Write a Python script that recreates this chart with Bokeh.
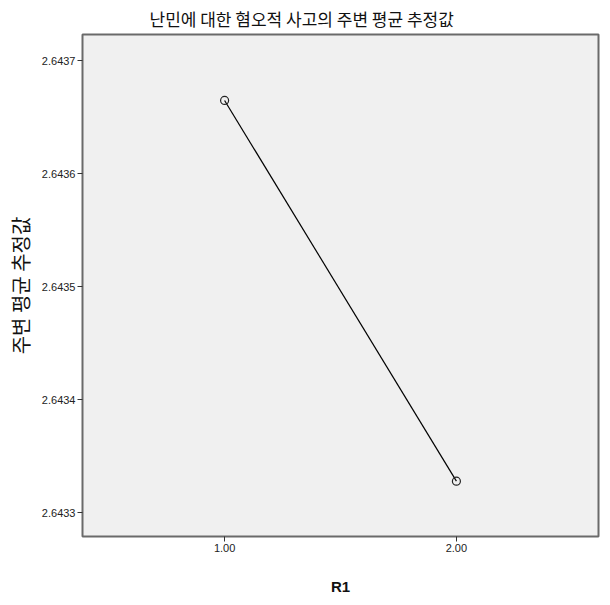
from bokeh.plotting import figure
from bokeh.models import FixedTicker, PrintfTickFormatter, Range1d
from bokeh.embed import file_html
from bokeh.resources import INLINE

# data
r1_levels = [1.0, 2.0]
marginal_means = [2.643665, 2.643328]
y_ticks = [2.6433, 2.6434, 2.6435, 2.6436, 2.6437]
x_ticks = [1.0, 2.0]

title_text = "난민에 대한 혐오적 사고의 주변 평균 추정값"
x_label = "R1"
y_label = "주변 평균 추정값"

p = figure(width=600, height=597, output_backend="svg", toolbar_location=None,
           x_range=Range1d(0.387, 2.613), y_range=Range1d(2.643279, 2.6437234),
           min_border_left=82, min_border_right=2, min_border_top=34, min_border_bottom=55)

p.title.text = title_text
p.title.text_font = "Noto Sans CJK KR"
p.title.text_font_size = "17px"
p.title.text_font_style = "normal"
p.title.align = "left"
p.title.offset = 67
p.title.standoff = 7
p.title.text_color = "#111111"

p.background_fill_color = "#f0f0f0"
p.border_fill_color = "white"
p.outline_line_color = "#6a6a6a"
p.outline_line_width = 2
p.grid.visible = False

for ax in (p.xaxis, p.yaxis):
    ax.axis_line_color = "#6a6a6a"
    ax.major_tick_line_color = "#333333"
    ax.major_tick_in = 0
    ax.major_tick_out = 5
    ax.minor_tick_line_color = None
    ax.major_label_text_font = "Liberation Sans"
    ax.major_label_text_font_size = "11px"
    ax.major_label_text_color = "#222222"
    ax.axis_label_text_font = "Noto Sans CJK KR"
    ax.axis_label_text_color = "#111111"

p.xaxis.ticker = FixedTicker(ticks=x_ticks)
p.xaxis.formatter = PrintfTickFormatter(format="%.2f")
p.xaxis.major_label_standoff = 2
p.xaxis.axis_label = x_label
p.xaxis.axis_label_text_font = "Liberation Sans"
p.xaxis.axis_label_text_font_style = "bold"
p.xaxis.axis_label_text_font_size = "15px"
p.xaxis.axis_label_standoff = 23

p.yaxis.ticker = FixedTicker(ticks=y_ticks)
p.yaxis.formatter = PrintfTickFormatter(format="%.4f")
p.yaxis.major_label_standoff = 2
p.yaxis.axis_label = y_label
p.yaxis.axis_label_text_font_style = "normal"
p.yaxis.axis_label_text_font_size = "20px"
p.yaxis.axis_label_standoff = 4

p.line(r1_levels, marginal_means, line_color="black", line_width=1.2)
p.scatter(r1_levels, marginal_means, marker="circle", size=8, fill_color=None,
          line_color="#222222", line_width=1.2)

open("out.html", "w").write(file_html(p, INLINE))
